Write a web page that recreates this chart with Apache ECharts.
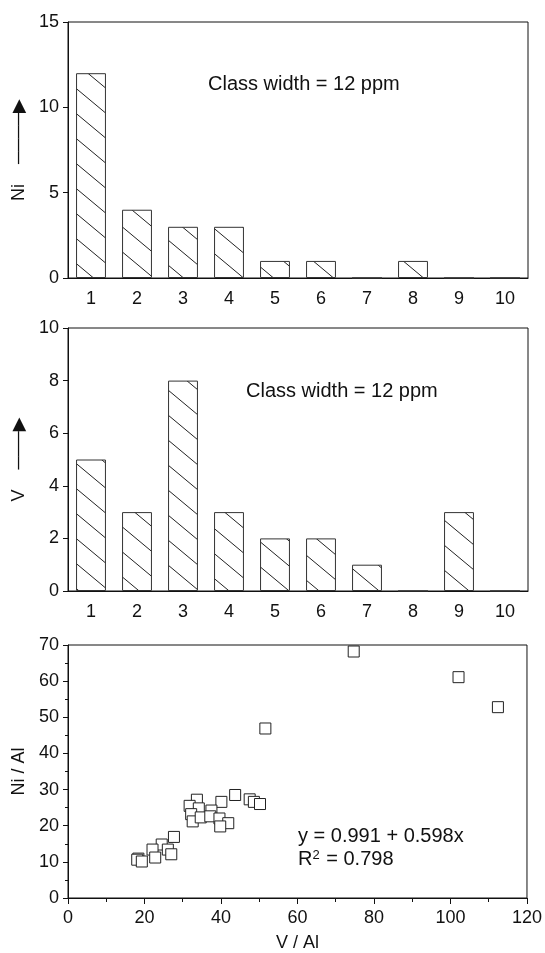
<!DOCTYPE html>
<html>
<head>
<meta charset="utf-8">
<script src="https://cdn.jsdelivr.net/npm/echarts@6/dist/echarts.min.js"></script>
<style>
  html, body { margin: 0; padding: 0; background: #fff; }
  #main { width: 545px; height: 953px; }
</style>
</head>
<body>
<div id="main"></div>
<script>
// class numbers (12 ppm per class)
const classes = ['1', '2', '3', '4', '5', '6', '7', '8', '9', '10'];
const niCounts = [12, 4, 3, 3, 1, 1, 0, 1, 0, 0];
const vCounts = [5, 3, 8, 3, 2, 2, 1, 0, 3, 0];

// V/Al vs Ni/Al
const vAl = [74.7, 102.1, 112.4, 51.6,
  43.7, 47.5, 48.6, 50.2, 40.1, 33.7, 31.8, 34.2, 37.5, 32.2, 32.6, 34.7, 37.2, 39.6, 41.9, 39.8,
  27.7, 24.5, 22.1, 22.8, 26.1, 27.0, 18.4, 18.1, 19.3];
const niAl = [68.2, 61.1, 52.8, 46.9,
  28.5, 27.3, 26.6, 26.0, 26.6, 27.2, 25.5, 24.8, 24.2, 23.2, 21.2, 22.3, 22.6, 22.0, 20.7, 19.8,
  16.9, 14.8, 13.4, 11.2, 13.4, 12.1, 10.9, 10.6, 10.1];

const font = 'Liberation Sans, Arial, DejaVu Sans, sans-serif';
const ink = '#111';

function hatch() {
  const c = document.createElement('canvas');
  c.width = 30; c.height = 25;
  const ctx = c.getContext('2d');
  ctx.fillStyle = '#fff';
  ctx.fillRect(0, 0, 30, 25);
  ctx.strokeStyle = '#222';
  ctx.lineWidth = 1;
  [-25, 0, 25].forEach(off => {
    ctx.beginPath();
    ctx.moveTo(-30, -25 + off);
    ctx.lineTo(60, 50 + off);
    ctx.stroke();
  });
  return c;
}
const pattern = { image: hatch(), repeat: 'repeat' };

const grids = [
  { left: 68, right: 17, top: 22, height: 256 },
  { left: 68, right: 17, top: 328, height: 263 },
  { left: 68, right: 16, top: 645, height: 257 }
];

function catAxes(gi) {
  return [{
    type: 'category', gridIndex: gi, data: classes,
    axisLine: { lineStyle: { color: ink, width: 1 } },
    axisTick: { alignWithLabel: true, length: 6, lineStyle: { color: ink } },
    axisLabel: { color: ink, fontSize: 18, fontFamily: font, margin: 12 }
  }, {
    type: 'category', gridIndex: gi, data: classes, position: 'bottom',
    axisLine: { show: false },
    axisTick: { length: 4, lineStyle: { color: ink } },
    axisLabel: { show: false }
  }];
}

function valAxis(gi, max, interval, name, gap) {
  return {
    type: 'value', gridIndex: gi, min: 0, max: max, interval: interval,
    name: name, nameLocation: 'middle', nameGap: gap, nameRotate: 90,
    nameTextStyle: { color: ink, fontSize: 18, fontFamily: font },
    axisLine: { show: true, lineStyle: { color: ink } },
    axisTick: { show: true, length: 5, lineStyle: { color: ink } },
    axisLabel: { color: ink, fontSize: 18, fontFamily: font, margin: 9 },
    splitLine: { show: false }
  };
}

const barStyle = { color: pattern, borderColor: '#333', borderWidth: 1 };

const option = {
  animation: false,
  backgroundColor: '#fff',
  grid: grids.map(g => Object.assign({ show: true, borderColor: ink, borderWidth: 1, backgroundColor: 'transparent' }, g)),
  xAxis: catAxes(0).concat(catAxes(1)).concat([{
    type: 'value', gridIndex: 2, min: 0, max: 120, interval: 20,
    name: 'V / Al', nameLocation: 'middle', nameGap: 36,
    nameTextStyle: { color: ink, fontSize: 18, fontFamily: font },
    axisLine: { lineStyle: { color: ink } },
    axisTick: { length: 6, lineStyle: { color: ink } },
    minorTick: { show: true, splitNumber: 2, length: 4, lineStyle: { color: ink } },
    axisLabel: { color: ink, fontSize: 18, fontFamily: font, margin: 11 },
    splitLine: { show: false }
  }]),
  yAxis: [
    valAxis(0, 15, 5, 'Ni    ────▶', 40),
    valAxis(1, 10, 2, 'V    ───▶', 40),
    Object.assign(valAxis(2, 70, 10, 'Ni / Al', 40), {
      minorTick: { show: true, splitNumber: 2, length: 3, lineStyle: { color: ink } }
    })
  ],
  series: [
    { type: 'bar', xAxisIndex: 0, yAxisIndex: 0, data: niCounts, barWidth: '65%', itemStyle: barStyle },
    { type: 'bar', xAxisIndex: 2, yAxisIndex: 1, data: vCounts, barWidth: '65%', itemStyle: barStyle },
    {
      type: 'scatter', xAxisIndex: 4, yAxisIndex: 2,
      data: vAl.map((v, i) => [v, niAl[i]]),
      symbol: 'rect', symbolSize: 11,
      itemStyle: { color: '#fff', borderColor: '#222', borderWidth: 1, opacity: 1 }
    }
  ],
  graphic: [
    { type: 'text', left: 208, top: 74, style: { text: 'Class width = 12 ppm', fill: ink, font: '20px ' + font } },
    { type: 'text', left: 246, top: 381, style: { text: 'Class width = 12 ppm', fill: ink, font: '20px ' + font } },
    { type: 'text', left: 298, top: 826, style: { text: 'y = 0.991 + 0.598x', fill: ink, font: '20px ' + font } },
    { type: 'text', left: 298, top: 849, style: {
      text: 'R{s|2} = 0.798', fill: ink, font: '20px ' + font,
      rich: { s: { fontSize: 13, fontFamily: font, verticalAlign: 'top', padding: [0, 1, 8, 0] } }
    } }
  ]
};

const chart = echarts.init(document.getElementById('main'));
chart.setOption(option);
</script>
</body>
</html>
